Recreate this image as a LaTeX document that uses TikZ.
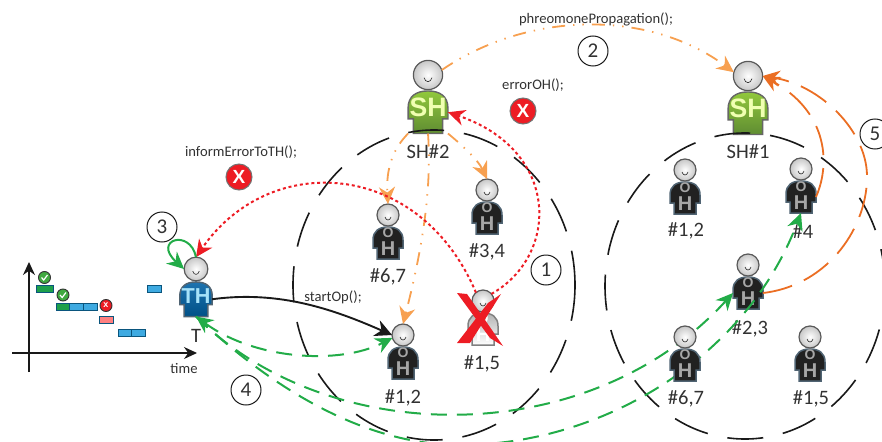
\documentclass[tikz,border=0pt]{standalone}
\usepackage{amsmath, amssymb, amsfonts}
\usepackage{fontspec}
\setmainfont{Carlito}
\newfontfamily\boldsans{Liberation Sans}
\usetikzlibrary{arrows.meta}
\definecolor{inkgray}{RGB}{50,50,50}
\definecolor{greenlink}{RGB}{34,172,72}
\definecolor{errred}{RGB}{237,28,36}
\definecolor{pherolight}{RGB}{247,160,80}
\definecolor{pherodark}{RGB}{235,110,35}
\definecolor{taskblue}{RGB}{62,170,225}
\definecolor{taskedge}{RGB}{10,85,125}
\definecolor{shtop}{RGB}{145,200,60}
\definecolor{shbottom}{RGB}{95,140,50}
\definecolor{thtop}{RGB}{30,115,175}
\definecolor{thbottom}{RGB}{0,80,135}
\definecolor{agentedge}{RGB}{80,100,115}
\definecolor{taskgreen}{RGB}{30,160,75}
\tikzset{
    headnode/.style={circle, draw=black!65, line width=1.2pt, minimum size=22pt, inner sep=0pt, outer sep=0pt, inner color=white, outer color=black!22},
    bodybox/.style={rectangle, minimum width=30pt, minimum height=32pt, inner sep=0pt, outer sep=0pt},
    smile/.style={draw=black!85, line width=0.6pt},
    shbody/.style={draw=black!60, line width=1.4pt, top color=shtop, bottom color=shbottom},
    thbody/.style={draw=agentedge, line width=1.5pt, top color=thtop, bottom color=thbottom},
    ohbody/.style={draw=agentedge, line width=1.5pt, fill=black!87},
    ghostbody/.style={draw=black!50, line width=1.5pt, top color=black!30, bottom color=white},
    shtext/.style={text=green!20!yellow!30, font=\boldsans\bfseries\fontsize{20}{20}\selectfont},
    thtext/.style={text=cyan!35, font=\boldsans\bfseries\fontsize{20}{20}\selectfont},
    ohtext/.style={text=black!35, font=\boldsans\bfseries\fontsize{20}{20}\selectfont},
    ghosttext/.style={text=white, font=\boldsans\bfseries\fontsize{20}{20}\selectfont},
    zone/.style={draw=black!90, line width=1.6pt, dash pattern=on 36pt off 20pt},
    pherolink/.style={draw=pherolight, line width=1.8pt, dash pattern=on 13pt off 8pt on 1.4pt off 8pt on 1.4pt off 8pt, -{Stealth[length=17pt,width=16pt,fill=pherolight]}},
    reinforce/.style={draw=pherodark, line width=1.8pt, dash pattern=on 30pt off 13pt, -{Stealth[length=17pt,width=16pt,fill=pherodark]}},
    errlink/.style={draw=errred, line width=2pt, dash pattern=on 3pt off 2.8pt, -{Stealth[length=17pt,width=16pt,fill=errred]}},
    oplink/.style={draw=black!90, line width=1.9pt, -{Stealth[length=17pt,width=17pt]}},
    retrylink/.style={draw=greenlink, line width=2pt, dash pattern=on 16pt off 10pt, -{Stealth[length=17pt,width=16pt,fill=greenlink]}},
    stepnum/.style={circle, draw=black!90, line width=1pt, minimum size=30pt, inner sep=0pt, text=inkgray, font=\fontsize{21}{21}\selectfont},
    agentlabel/.style={text=inkgray, font=\fontsize{20.5}{21}\selectfont},
    codelabel/.style={text=inkgray, font=\fontsize{14.6}{15}\selectfont},
    erricon/.style={circle, fill=errred, draw=black!55, line width=1pt, minimum size=26pt, inner sep=0pt, text=white, font=\boldsans\bfseries\fontsize{19}{19}\selectfont},
    smallerr/.style={circle, fill=errred, draw=black!80, line width=0.9pt, minimum size=12pt, inner sep=0pt, text=white, font=\boldsans\bfseries\fontsize{9}{9}\selectfont},
    smallok/.style={circle, fill=green!55!black!75, draw=black!80, line width=0.9pt, minimum size=12pt, inner sep=0pt},
    taskok/.style={rectangle, fill=taskgreen, draw=taskedge, line width=0.9pt, minimum width=#1, minimum height=7pt, inner sep=0pt},
    taskbar/.style={rectangle, fill=taskblue, draw=taskedge, line width=0.9pt, minimum width=14pt, minimum height=7pt, inner sep=0pt},
    taskfail/.style={rectangle, fill=red!50!white, draw=taskedge, line width=0.9pt, minimum width=14pt, minimum height=7pt, inner sep=0pt},
    axisline/.style={draw=black!90, line width=1.2pt, -{Stealth[length=13pt,width=12pt]}},
    crossmark/.style={fill=errred}
}
\newcommand{\agent}[5]{
    \begin{scope}[shift={#2}, scale=#3, every node/.append style={transform shape}]
        \path[#4] (-11,44) -- (-11,33) -- (-15,33) -- (-15,25) .. controls (-15,16) and (-9,12) .. (0,12) .. controls (9,12) and (15,16) .. (15,25) -- (15,33) -- (11,33) -- (11,44) -- cycle;
        \node[bodybox] (#1-b) at (0,28) {};
        #5
        \node[headnode] (#1) at (0,0) {};
        \path[smile] (-3,2) .. controls (-2,6) and (2,6) .. (3,2);
    \end{scope}
}
\newcommand{\ohletters}[1]{\node[#1, font=\boldsans\bfseries\fontsize{14}{14}\selectfont] at (0,17.5) {O}; \node[#1] at (0,34) {H};}
\newcommand{\okmark}[1]{\draw[white, line width=1.2pt] ([xshift=-3pt]#1.center) -- ([xshift=-0.8pt,yshift=-2.5pt]#1.center) -- ([xshift=3pt,yshift=2.5pt]#1.center);}
\begin{document}
\begin{tikzpicture}[x=1pt, y=-1pt]
    \useasboundingbox (0,0) rectangle (882,441);

    \agent{sh2}{(428,75)}{1.33}{shbody}{\node[shtext] at (0,24) {SH};}
    \agent{sh1}{(748,76)}{1.33}{shbody}{\node[shtext] at (0,24) {SH};}
    \agent{th}{(196,269)}{1.08}{thbody}{\node[thtext] at (0,25) {TH};}
    \agent{a67}{(388,215)}{1}{ohbody}{\ohletters{ohtext}}
    \agent{a34}{(487,190)}{1}{ohbody}{\ohletters{ohtext}}
    \agent{a12}{(403,335)}{1}{ohbody}{\ohletters{ohtext}}
    \agent{a15}{(483,301)}{1}{ghostbody}{\ohletters{ghosttext}}
    \agent{b12}{(685,170)}{1}{ohbody}{\ohletters{ohtext}}
    \agent{b4}{(801,169)}{1}{ohbody}{\ohletters{ohtext}}
    \agent{b23}{(748,265)}{1}{ohbody}{\ohletters{ohtext}}
    \agent{b15}{(810,337)}{1}{ohbody}{\ohletters{ohtext}}

    \node[agentlabel] (lsh2) at (428,152) {SH\#2};
    \node[agentlabel] (lsh1) at (748,152) {SH\#1};
    \node[agentlabel] (lth) at (196,336) {T};
    \node[agentlabel] (la67) at (388,277) {\#6,7};
    \node[agentlabel] (la34) at (487,252) {\#3,4};
    \node[agentlabel] (la12) at (403,398) {\#1,2};
    \node[agentlabel] (la15) at (482,364) {\#1,5};
    \node[agentlabel] (lb12) at (686,231) {\#1,2};
    \node[agentlabel] (lb4) at (803,232) {\#4};
    \node[agentlabel] (lb23) at (750,329) {\#2,3};
    \node[agentlabel] (lb67) at (686,399) {\#6,7};
    \node[agentlabel] (lb15) at (811,399) {\#1,5};

    \draw[zone] (434,285) ellipse (141 and 155);
    \draw[zone, dash phase=12pt] (745,286) ellipse (140 and 153);

    \draw[pherolink] (sh2.20) .. controls (530,10) and (650,10) .. (sh1.165);
    \draw[pherolink] (sh2-b.south west) .. controls (392,150) and (386,170) .. (a67.north);
    \draw[pherolink] (sh2-b.south) .. controls (432,190) and (422,250) .. (a12.north);
    \draw[pherolink] (sh2-b.south east) .. controls (462,145) and (478,160) .. (a34.north);

    \draw[errlink] (a15.40) .. controls (560,255) and (560,150) .. (sh2-b.east);
    \draw[errlink] (a15.130) .. controls (420,160) and (270,150) .. (th.north);

    \draw[oplink] (th-b.east) .. controls (280,290) and (335,310) .. (a12.west);
    \draw[draw=greenlink, line width=2pt, -{Stealth[length=17pt,width=16pt,fill=greenlink]}] (th.north) .. controls (190,228) and (152,240) .. (th.180);
    \draw[retrylink, {Stealth[length=17pt,width=16pt,fill=greenlink]}-{Stealth[length=17pt,width=16pt,fill=greenlink]}] (th-b.south) .. controls (255,360) and (340,365) .. (a12.195);
    \draw[retrylink] (th-b.south) .. controls (330,450) and (590,450) .. (b23-b.west);
    \draw[retrylink] (th-b.south) .. controls (290,405) and (380,445) .. (460,445) .. controls (600,445) and (745,360) .. (b4-b.south);

    \agent{b67}{(685,337)}{1}{ohbody}{\ohletters{ohtext}}

    \draw[reinforce] (b23-b.east) .. controls (830,285) and (868,225) .. (867,175) .. controls (866,130) and (820,85) .. (sh1.east);
    \draw[reinforce] (b4-b.east) .. controls (832,160) and (825,110) .. (sh1.east);

    \path[crossmark] (457,293) -- (467,294) -- (503,346) -- (490,338) -- cycle;
    \path[crossmark] (501,294) -- (470,343) -- (457,343) -- (488,303) -- cycle;

    \node[stepnum] (n1) at (546,270) {1};
    \node[stepnum] (n2) at (593,51) {2};
    \node[stepnum] (n3) at (162,227) {3};
    \node[stepnum] (n4) at (246,390) {4};
    \node[stepnum] (n5) at (875,134) {5};

    \node[codelabel] (c1) at (596,19) {phreomonePropagation();};
    \node[codelabel] (c2) at (533,85) {errorOH();};
    \node[codelabel] (c3) at (241,152) {informErrorToTH();};
    \node[codelabel] (c4) at (333,297) {startOp();};
    \node[codelabel] (c5) at (184,369) {time};

    \node[erricon] (x1) at (523,111) {X};
    \node[erricon] (x2) at (239,177) {X};

    \coordinate (xs) at (12,353);
    \coordinate (xe) at (197,353);
    \coordinate (ys) at (29,372);
    \coordinate (ye) at (29,262);
    \draw[axisline] (xs) -- (xe);
    \draw[axisline] (ys) -- (ye);

    \node[taskok=17pt] (t1) at (44.5,288.5) {};
    \node[taskok=13pt] (t2) at (62.5,306.5) {};
    \node[taskbar] (t3) at (76,306.5) {};
    \node[taskbar] (t4) at (90,306.5) {};
    \node[taskfail] (t5) at (106.5,319.5) {};
    \node[taskbar] (t6) at (125,332.5) {};
    \node[taskbar] (t7) at (138.5,332.5) {};
    \node[taskbar] (t8) at (154,288.5) {};
    \node[smallok] (k1) at (44.5,277.5) {};
    \node[smallok] (k2) at (63,295) {};
    \node[smallerr] (k3) at (106,305.5) {x};
    \okmark{k1}
    \okmark{k2}
\end{tikzpicture}
\end{document}
